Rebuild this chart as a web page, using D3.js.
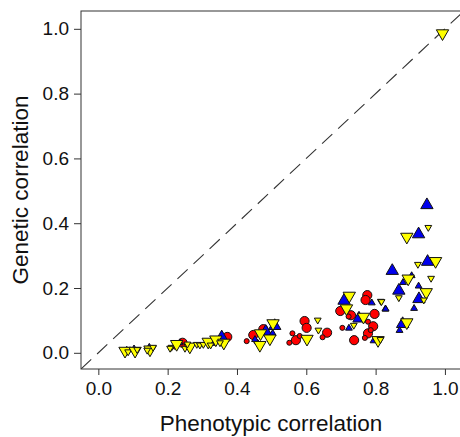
<!DOCTYPE html>
<html>
<head>
<meta charset="utf-8">
<script src="https://cdn.jsdelivr.net/npm/d3@7"></script>
<style>
  body { margin: 0; background: #fff; }
  text { font-family: "Liberation Sans", Arial, sans-serif; fill: #111; }
</style>
</head>
<body>
<svg id="chart" width="460" height="437"></svg>
<script>
// phenotypic (x) vs genetic (y) correlations, one set of arrays per marker type
// big: 1 = large marker, 0 = small marker
const redX = [0.243, 0.221, 0.372, 0.428, 0.476, 0.447, 0.456, 0.595, 0.601, 0.660, 0.647, 0.560, 0.570, 0.551, 0.581,
              0.776, 0.771, 0.698, 0.729, 0.797, 0.778, 0.793, 0.704, 0.778, 0.786, 0.738, 0.769, 0.722]
const redY = [0.031, 0.019, 0.049, 0.036, 0.073, 0.055, 0.034, 0.098, 0.077, 0.062, 0.048, 0.060, 0.039, 0.031, 0.052,
              0.178, 0.163, 0.129, 0.116, 0.120, 0.096, 0.082, 0.077, 0.060, 0.070, 0.039, 0.046, 0.112]
const redBig = [1, 0, 1, 0, 1, 1, 0, 1, 1, 1, 0, 0, 1, 0, 0,
                1, 1, 1, 1, 1, 0, 1, 0, 1, 0, 1, 0, 0]

const blueX = [0.082, 0.103, 0.147, 0.235, 0.331, 0.356, 0.509, 0.483, 0.503, 0.452, 0.709, 0.789, 0.828, 0.752, 0.723,
               0.794, 0.948, 0.924, 0.950, 0.848, 0.904, 0.879, 0.924, 0.867, 0.925, 0.829, 0.911, 0.878, 0.869]
const blueY = [0.008, 0.012, 0.017, 0.031, 0.029, 0.048, 0.083, 0.065, 0.060, 0.041, 0.161, 0.154, 0.135, 0.106, 0.076,
               0.037, 0.456, 0.366, 0.281, 0.253, 0.238, 0.217, 0.206, 0.192, 0.166, 0.135, 0.137, 0.089, 0.069]
const blueBig = [0, 0, 0, 0, 0, 1, 1, 1, 0, 0, 1, 0, 0, 1, 0,
                 0, 1, 1, 1, 1, 0, 0, 0, 1, 1, 0, 0, 1, 0]

const yellowX = [0.077, 0.086, 0.106, 0.112, 0.149, 0.158, 0.141, 0.211, 0.226, 0.250, 0.207, 0.264, 0.257, 0.284, 0.293,
                 0.303, 0.317, 0.324, 0.339, 0.362, 0.351, 0.504, 0.468, 0.495, 0.466, 0.602, 0.633, 0.635, 0.724, 0.716,
                 0.815, 0.765, 0.737, 0.807, 0.993, 0.952, 0.890, 0.922, 0.973, 0.894, 0.960, 0.946, 0.867, 0.939, 0.817,
                 0.890, 0.814]
const yellowY = [0.006, 0.003, 0.006, 0.010, 0.010, 0.017, 0.008, 0.017, 0.027, 0.014, 0.014, 0.019, 0.027, 0.026, 0.024,
                 0.026, 0.034, 0.024, 0.041, 0.031, 0.031, 0.091, 0.060, 0.044, 0.024, 0.043, 0.101, 0.070, 0.176, 0.137,
                 0.159, 0.111, 0.085, 0.039, 0.986, 0.387, 0.358, 0.273, 0.283, 0.229, 0.230, 0.187, 0.170, 0.163, 0.158,
                 0.094, 0.041]
const yellowBig = [1, 0, 1, 0, 1, 0, 0, 0, 1, 0, 0, 1, 0, 0, 0,
                   0, 1, 0, 1, 1, 0, 1, 1, 1, 1, 1, 0, 0, 1, 1,
                   0, 1, 0, 1, 1, 0, 1, 0, 1, 1, 0, 1, 0, 0, 0,
                   1, 0]

const xTicks = [0, 0.2, 0.4, 0.6, 0.8, 1.0]
const yTicks = [0, 0.2, 0.4, 0.6, 0.8, 1.0]

const svg = d3.select('#chart')
const box = {left: 81, top: 11, right: 464, bottom: 369}

const x = d3.scaleLinear().domain([-0.05, 1.055]).range([box.left, box.right])
const y = d3.scaleLinear().domain([-0.05, 1.055]).range([box.bottom, box.top])

// plot frame
svg.append('rect')
    .attr('x', box.left).attr('y', box.top)
    .attr('width', box.right - box.left).attr('height', box.bottom - box.top)
    .attr('fill', 'none').attr('stroke', '#333').attr('stroke-width', 1)

// axes
const xAxis = svg.append('g')
    .attr('transform', `translate(0,${box.bottom})`)
    .call(d3.axisBottom(x).tickValues(xTicks).tickFormat(d3.format('.1f')).tickSize(6).tickPadding(7))
const yAxis = svg.append('g')
    .attr('transform', `translate(${box.left},0)`)
    .call(d3.axisLeft(y).tickValues(yTicks).tickFormat(d3.format('.1f')).tickSize(7).tickPadding(5))

for (const g of [xAxis, yAxis]) {
    g.select('.domain').remove()
    g.selectAll('line').attr('stroke', '#333')
    g.selectAll('text').style('font-size', '19px').attr('fill', '#111')
}

// 1:1 line
svg.append('clipPath').attr('id', 'plotclip')
    .append('rect')
    .attr('x', box.left).attr('y', box.top)
    .attr('width', box.right - box.left).attr('height', box.bottom - box.top)

svg.append('line')
    .attr('clip-path', 'url(#plotclip)')
    .attr('x1', x(-0.05)).attr('y1', y(-0.05))
    .attr('x2', x(1.1)).attr('y2', y(1.1))
    .attr('stroke', '#333').attr('stroke-width', 1.1)
    .attr('stroke-dasharray', '14,8')

// --- markers

function drawSet(xs, ys, bigs, symbol, fill, rotate) {
    const pts = xs.map((d, i) => ({x: d, y: ys[i], big: bigs[i]}))
    svg.append('g').selectAll('path')
        .data(pts)
        .join('path')
        .attr('d', d => d3.symbol().type(symbol).size(d.big ? 66 : 20)())
        .attr('transform', d => `translate(${x(d.x)},${y(d.y)}) rotate(${rotate})`)
        .attr('fill', fill)
        .attr('stroke', '#111')
        .attr('stroke-width', 1)
}

drawSet(redX, redY, redBig, d3.symbolCircle, '#ff0000', 0)
drawSet(blueX, blueY, blueBig, d3.symbolTriangle, '#0000ee', 0)
drawSet(yellowX, yellowY, yellowBig, d3.symbolTriangle, '#ffff00', 180)

// axis titles
svg.append('text')
    .attr('x', 271).attr('y', 431)
    .attr('text-anchor', 'middle')
    .style('font-size', '22.5px')
    .text('Phenotypic correlation')

svg.append('text')
    .attr('transform', 'translate(28,190) rotate(-90)')
    .attr('text-anchor', 'middle')
    .style('font-size', '22.5px')
    .text('Genetic correlation')
</script>
</body>
</html>
